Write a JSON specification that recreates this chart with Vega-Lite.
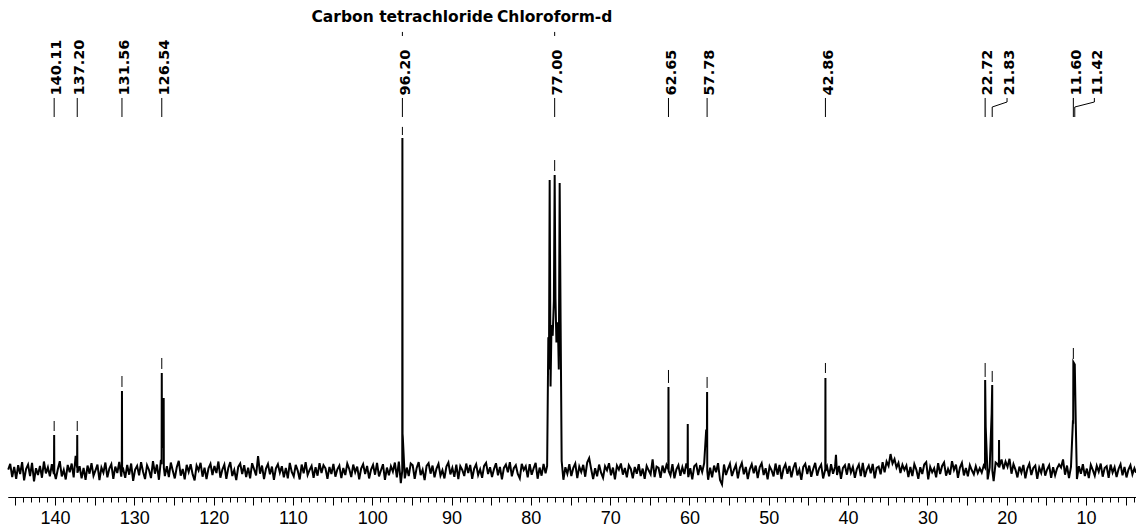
{
"$schema": "https://vega.github.io/schema/vega-lite/v6.json",
"width": 1128, "height": 497,
"padding": {"left": 8, "top": 0, "right": 0, "bottom": 30},
"autosize": {"type": "none"},
"background": "white",
"config": {"view": {"stroke": null}},
"resolve": {"axis": {"x": "independent"}},
"datasets": {
"labels": [
{"p":140.11,"lp":140.11,"t":"140.11"},{"p":137.2,"lp":137.2,"t":"137.20"},{"p":131.56,"lp":131.56,"t":"131.56"},{"p":126.54,"lp":126.54,"t":"126.54"},
{"p":96.2,"lp":96.2,"t":"96.20"},{"p":77.0,"lp":77.0,"t":"77.00"},{"p":62.65,"lp":62.65,"t":"62.65"},{"p":57.78,"lp":57.78,"t":"57.78"},
{"p":42.86,"lp":42.86,"t":"42.86"},{"p":22.72,"lp":22.72,"t":"22.72"},{"p":21.83,"lp":19.96,"t":"21.83"},{"p":11.6,"lp":11.6,"t":"11.60"},{"p":11.42,"lp":8.95,"t":"11.42"}
],
"markers": [
{"p":140.11,"lo":11.83,"hi":14.79},{"p":137.2,"lo":11.83,"hi":14.79},{"p":131.56,"lo":24.85,"hi":28.1},{"p":126.54,"lo":30.18,"hi":33.43},
{"p":96.2,"lo":99.4,"hi":101.8},{"p":77.0,"lo":88.76,"hi":92.0},{"p":62.65,"lo":26.04,"hi":29.88},{"p":57.78,"lo":24.56,"hi":27.81},
{"p":42.86,"lo":28.99,"hi":31.95},{"p":22.72,"lo":27.81,"hi":31.95},{"p":21.83,"lo":26.33,"hi":29.59},{"p":11.6,"lo":33.14,"hi":36.39}
],
"solvents": [{"p":96.2,"t":"Carbon tetrachloride"},{"p":77.0,"t":"Chloroform-d"}],
"spec": [
{"p":145.9,"v":0.4},{"p":145.65,"v":2.1},{"p":145.4,"v":-1.8},{"p":145.15,"v":1.2},
{"p":144.9,"v":-2.3},{"p":144.65,"v":1.7},{"p":144.4,"v":-0.9},{"p":144.15,"v":2.6},
{"p":143.9,"v":-2.8},{"p":143.65,"v":0.6},{"p":143.4,"v":1.9},{"p":143.15,"v":-1.5},
{"p":142.9,"v":2.4},{"p":142.65,"v":-3.1},{"p":142.4,"v":0.8},{"p":142.15,"v":-1.2},
{"p":141.9,"v":1.5},{"p":141.65,"v":-2.0},{"p":141.4,"v":2.8},{"p":141.15,"v":-0.7},
{"p":140.9,"v":1.1},{"p":140.65,"v":-1.6},{"p":140.4,"v":2.0},{"p":140.15,"v":-0.9},{"p":140.13,"v":0.3},{"p":140.11,"v":10.65},{"p":140.09,"v":-0.5},
{"p":139.9,"v":-2.4},{"p":139.65,"v":0.5},{"p":139.4,"v":2.9},{"p":139.15,"v":-1.6},
{"p":138.9,"v":0.3},{"p":138.65,"v":-2.5},{"p":138.4,"v":1.8},{"p":138.15,"v":-0.4},
{"p":137.9,"v":2.2},{"p":137.65,"v":-1.9},{"p":137.4,"v":4.5},{"p":137.22,"v":1.0},{"p":137.2,"v":10.65},{"p":137.18,"v":-0.5},
{"p":136.9,"v":1.4},{"p":136.65,"v":-2.2},{"p":136.4,"v":0.9},{"p":136.15,"v":-2.6},
{"p":135.9,"v":1.6},{"p":135.65,"v":-0.8},{"p":135.4,"v":2.3},{"p":135.15,"v":-1.4},
{"p":134.9,"v":0.2},{"p":134.65,"v":1.9},{"p":134.4,"v":-2.7},{"p":134.15,"v":1.0},
{"p":133.9,"v":-0.5},{"p":133.65,"v":2.5},{"p":133.4,"v":-1.9},{"p":133.15,"v":0.7},
{"p":132.9,"v":2.0},{"p":132.65,"v":-2.3},{"p":132.4,"v":1.3},{"p":132.15,"v":-0.6},
{"p":131.9,"v":2.7},{"p":131.65,"v":-1.7},{"p":131.58,"v":0.5},{"p":131.56,"v":23.67},{"p":131.54,"v":0.0},{"p":131.4,"v":0.5},{"p":131.15,"v":-2.0},
{"p":130.9,"v":1.8},{"p":130.65,"v":-1.1},{"p":130.4,"v":2.2},{"p":130.15,"v":-2.9},
{"p":129.9,"v":0.4},{"p":129.65,"v":1.5},{"p":129.4,"v":-1.3},{"p":129.15,"v":2.6},
{"p":128.9,"v":-0.2},{"p":128.65,"v":-2.4},{"p":128.4,"v":1.7},{"p":128.15,"v":0.3},
{"p":127.9,"v":-2.1},{"p":127.65,"v":2.9},{"p":127.4,"v":-0.8},{"p":127.15,"v":1.9},
{"p":126.9,"v":-2.6},{"p":126.65,"v":3.3},{"p":126.56,"v":2.0},{"p":126.54,"v":29.0},{"p":126.52,"v":8.0},{"p":126.4,"v":7.5},{"p":126.32,"v":8.0},{"p":126.3,"v":21.6},{"p":126.28,"v":1.0},{"p":126.15,"v":-1.5},
{"p":125.9,"v":1.4},{"p":125.65,"v":-1.8},{"p":125.4,"v":2.5},{"p":125.15,"v":0.1},
{"p":124.9,"v":-2.2},{"p":124.65,"v":1.1},{"p":124.4,"v":3.0},{"p":124.15,"v":-1.4},
{"p":123.9,"v":0.6},{"p":123.65,"v":-2.5},{"p":123.4,"v":1.8},{"p":123.15,"v":-0.3},
{"p":122.9,"v":2.0},{"p":122.65,"v":-1.0},{"p":122.4,"v":-2.8},{"p":122.15,"v":1.6},
{"p":121.9,"v":0.2},{"p":121.65,"v":2.4},{"p":121.4,"v":-1.7},{"p":121.15,"v":1.0},
{"p":120.9,"v":-2.4},{"p":120.65,"v":0.8},{"p":120.4,"v":2.1},{"p":120.15,"v":-1.2},
{"p":119.9,"v":1.5},{"p":119.65,"v":-0.6},{"p":119.4,"v":2.8},{"p":119.15,"v":-2.0},
{"p":118.9,"v":0.4},{"p":118.65,"v":1.9},{"p":118.4,"v":-2.3},{"p":118.15,"v":0.9},
{"p":117.9,"v":2.6},{"p":117.65,"v":-1.5},{"p":117.4,"v":0.3},{"p":117.15,"v":-2.7},
{"p":116.9,"v":1.2},{"p":116.65,"v":2.2},{"p":116.4,"v":-0.9},{"p":116.15,"v":1.7},
{"p":115.9,"v":-1.8},{"p":115.65,"v":1.0},{"p":115.4,"v":-2.2},{"p":115.15,"v":2.3},
{"p":114.9,"v":0.5},{"p":114.65,"v":-1.3},{"p":114.4,"v":4.4},{"p":114.15,"v":-0.8},
{"p":113.9,"v":1.6},{"p":113.65,"v":-2.4},{"p":113.4,"v":0.7},{"p":113.15,"v":2.1},
{"p":112.9,"v":-1.0},{"p":112.65,"v":1.3},{"p":112.4,"v":-2.6},{"p":112.15,"v":0.8},
{"p":111.9,"v":2.0},{"p":111.65,"v":-0.5},{"p":111.4,"v":1.4},{"p":111.15,"v":-1.9},
{"p":110.9,"v":0.9},{"p":110.65,"v":-2.2},{"p":110.4,"v":2.4},{"p":110.15,"v":-0.3},
{"p":109.9,"v":-1.6},{"p":109.65,"v":1.8},{"p":109.4,"v":0.1},{"p":109.15,"v":-2.5},
{"p":108.9,"v":1.9},{"p":108.65,"v":-0.7},{"p":108.4,"v":2.6},{"p":108.15,"v":-1.2},
{"p":107.9,"v":0.3},{"p":107.65,"v":1.5},{"p":107.4,"v":-2.0},{"p":107.15,"v":1.1},
{"p":106.9,"v":-1.4},{"p":106.65,"v":2.3},{"p":106.4,"v":-0.6},{"p":106.15,"v":1.7},
{"p":105.9,"v":0.8},{"p":105.65,"v":-2.3},{"p":105.4,"v":1.2},{"p":105.15,"v":-0.9},
{"p":104.9,"v":2.1},{"p":104.65,"v":-1.7},{"p":104.4,"v":0.5},{"p":104.15,"v":1.6},
{"p":103.9,"v":-2.1},{"p":103.65,"v":0.9},{"p":103.4,"v":-1.2},{"p":103.15,"v":2.2},
{"p":102.9,"v":0.6},{"p":102.65,"v":-1.8},{"p":102.4,"v":1.9},{"p":102.15,"v":-0.4},
{"p":101.9,"v":1.3},{"p":101.65,"v":-2.5},{"p":101.4,"v":0.7},{"p":101.15,"v":2.0},
{"p":100.9,"v":-0.9},{"p":100.65,"v":1.5},{"p":100.4,"v":-2.2},{"p":100.15,"v":0.4},
{"p":99.9,"v":1.8},{"p":99.65,"v":-1.1},{"p":99.4,"v":2.4},{"p":99.15,"v":-1.6},
{"p":98.9,"v":0.2},{"p":98.65,"v":2.0},{"p":98.4,"v":-2.6},{"p":98.15,"v":1.0},
{"p":97.9,"v":-1.3},{"p":97.65,"v":1.4},{"p":97.4,"v":-0.2},{"p":97.15,"v":2.5},
{"p":96.9,"v":-1.9},{"p":96.65,"v":2.8},{"p":96.4,"v":-3.6},{"p":96.22,"v":0.0},{"p":96.2,"v":98.5},{"p":96.18,"v":11.0},{"p":96.15,"v":10},
{"p":95.9,"v":-2.2},{"p":95.65,"v":1.0},{"p":95.4,"v":-1.5},{"p":95.15,"v":2.2},
{"p":94.9,"v":1.7},{"p":94.65,"v":-2.3},{"p":94.4,"v":0.9},{"p":94.15,"v":2.6},
{"p":93.9,"v":-1.2},{"p":93.65,"v":0.4},{"p":93.4,"v":-2.7},{"p":93.15,"v":1.5},
{"p":92.9,"v":2.3},{"p":92.65,"v":-0.8},{"p":92.4,"v":1.6},{"p":92.15,"v":-1.9},
{"p":91.9,"v":0.7},{"p":91.65,"v":2.1},{"p":91.4,"v":-1.4},{"p":91.15,"v":0.2},
{"p":90.9,"v":-2.2},{"p":90.65,"v":1.3},{"p":90.4,"v":2.5},{"p":90.15,"v":-1.0},
{"p":89.9,"v":0.9},{"p":89.65,"v":-1.7},{"p":89.4,"v":1.9},{"p":89.15,"v":-2.4},
{"p":88.9,"v":1.4},{"p":88.65,"v":0.3},{"p":88.4,"v":-1.5},{"p":88.15,"v":2.2},
{"p":87.9,"v":-0.6},{"p":87.65,"v":1.8},{"p":87.4,"v":-2.3},{"p":87.15,"v":0.7},
{"p":86.9,"v":2.0},{"p":86.65,"v":-1.2},{"p":86.4,"v":0.5},{"p":86.15,"v":-2.0},
{"p":85.9,"v":1.5},{"p":85.65,"v":2.4},{"p":85.4,"v":-0.9},{"p":85.15,"v":1.1},
{"p":84.9,"v":-1.8},{"p":84.65,"v":0.6},{"p":84.4,"v":2.3},{"p":84.15,"v":-1.3},
{"p":83.9,"v":1.2},{"p":83.65,"v":-2.5},{"p":83.4,"v":0.9},{"p":83.15,"v":1.9},
{"p":82.9,"v":-0.4},{"p":82.65,"v":2.6},{"p":82.4,"v":-1.6},{"p":82.15,"v":0.8},
{"p":81.9,"v":1.7},{"p":81.65,"v":-0.9},{"p":81.4,"v":-2.2},{"p":81.15,"v":2.1},
{"p":80.9,"v":0.3},{"p":80.65,"v":1.4},{"p":80.4,"v":-1.9},{"p":80.15,"v":2.0},
{"p":79.9,"v":-1.1},{"p":79.65,"v":0.8},{"p":79.4,"v":2.4},{"p":79.15,"v":-2.3},
{"p":78.9,"v":1.0},{"p":78.65,"v":-1.4},{"p":78.4,"v":2.1},{"p":78.15,"v":-0.7},
{"p":77.95,"v":1.5},{"p":77.8,"v":39.6},{"p":77.72,"v":30},{"p":77.63,"v":86.1},{"p":77.52,"v":25},{"p":77.4,"v":43.2},{"p":77.25,"v":40},{"p":77.1,"v":50.3},
{"p":77.0,"v":87.57},{"p":76.9,"v":51},{"p":76.78,"v":38},{"p":76.6,"v":44},{"p":76.48,"v":30},{"p":76.37,"v":85.2},{"p":76.25,"v":44},{"p":76.12,"v":3},
{"p":75.9,"v":-2.6},{"p":75.65,"v":1.1},{"p":75.4,"v":-0.8},{"p":75.15,"v":2.0},
{"p":74.9,"v":-1.5},{"p":74.65,"v":0.9},{"p":74.4,"v":2.2},{"p":74.15,"v":-2.1},
{"p":73.9,"v":1.3},{"p":73.65,"v":-0.3},{"p":73.4,"v":1.8},{"p":73.15,"v":-1.7},
{"p":72.9,"v":2.5},{"p":72.65,"v":3.8},{"p":72.4,"v":0.6},{"p":72.15,"v":-2.4},
{"p":71.9,"v":0.8},{"p":71.65,"v":-1.6},{"p":71.4,"v":1.9},{"p":71.15,"v":-0.5},
{"p":70.9,"v":-2.0},{"p":70.65,"v":1.4},{"p":70.4,"v":0.2},{"p":70.15,"v":2.3},
{"p":69.9,"v":-1.3},{"p":69.65,"v":1.0},{"p":69.4,"v":-2.5},{"p":69.15,"v":1.6},
{"p":68.9,"v":0.4},{"p":68.65,"v":2.2},{"p":68.4,"v":-1.1},{"p":68.15,"v":0.9},
{"p":67.9,"v":-1.9},{"p":67.65,"v":1.7},{"p":67.4,"v":0.6},{"p":67.15,"v":-2.2},
{"p":66.9,"v":1.2},{"p":66.65,"v":-0.8},{"p":66.4,"v":2.0},{"p":66.15,"v":-1.5},
{"p":65.9,"v":0.7},{"p":65.65,"v":-2.3},{"p":65.4,"v":1.5},{"p":65.15,"v":0.2},
{"p":64.9,"v":-1.0},{"p":64.65,"v":3.4},{"p":64.4,"v":-1.8},{"p":64.15,"v":1.3},
{"p":63.9,"v":0.9},{"p":63.65,"v":-2.0},{"p":63.4,"v":1.6},{"p":63.15,"v":-0.6},
{"p":62.9,"v":1.8},{"p":62.67,"v":0.5},{"p":62.65,"v":24.85},{"p":62.63,"v":0.0},{"p":62.4,"v":-1.3},{"p":62.15,"v":2.0},
{"p":61.9,"v":-2.2},{"p":61.65,"v":0.5},{"p":61.4,"v":1.7},{"p":61.15,"v":-1.4},
{"p":60.9,"v":1.1},{"p":60.65,"v":-0.9},{"p":60.4,"v":2.2},{"p":60.24,"v":0.8},{"p":60.22,"v":13.9},{"p":60.2,"v":-0.3},{"p":60.15,"v":-1.8},
{"p":59.9,"v":0.8},{"p":59.65,"v":-2.5},{"p":59.4,"v":1.4},{"p":59.15,"v":2.0},
{"p":58.9,"v":-1.2},{"p":58.65,"v":1.7},{"p":58.4,"v":-0.3},{"p":58.15,"v":2.3},
{"p":57.9,"v":12},{"p":57.8,"v":12},{"p":57.78,"v":23.37},{"p":57.76,"v":0.0},{"p":57.65,"v":-2.6},{"p":57.4,"v":1.0},{"p":57.15,"v":-1.9},
{"p":56.9,"v":1.6},{"p":56.65,"v":-0.4},{"p":56.4,"v":2.3},{"p":56.15,"v":-2.7},
{"p":55.9,"v":-4.0},{"p":55.65,"v":1.9},{"p":55.4,"v":-1.2},{"p":55.15,"v":0.6},
{"p":54.9,"v":2.1},{"p":54.65,"v":-1.5},{"p":54.4,"v":0.3},{"p":54.15,"v":1.8},
{"p":53.9,"v":-2.2},{"p":53.65,"v":0.9},{"p":53.4,"v":2.4},{"p":53.15,"v":-1.0},
{"p":52.9,"v":1.2},{"p":52.65,"v":-2.4},{"p":52.4,"v":0.5},{"p":52.15,"v":2.0},
{"p":51.9,"v":-0.7},{"p":51.65,"v":1.6},{"p":51.4,"v":-2.1},{"p":51.15,"v":1.1},
{"p":50.9,"v":2.3},{"p":50.65,"v":-1.2},{"p":50.4,"v":0.8},{"p":50.15,"v":-2.5},
{"p":49.9,"v":1.4},{"p":49.65,"v":0.2},{"p":49.4,"v":-1.6},{"p":49.15,"v":2.2},
{"p":48.9,"v":-1.1},{"p":48.65,"v":1.8},{"p":48.4,"v":-2.4},{"p":48.15,"v":0.7},
{"p":47.9,"v":2.0},{"p":47.65,"v":-0.8},{"p":47.4,"v":1.5},{"p":47.15,"v":-1.9},
{"p":46.9,"v":0.9},{"p":46.65,"v":2.5},{"p":46.4,"v":-1.3},{"p":46.15,"v":0.4},
{"p":45.9,"v":-2.6},{"p":45.65,"v":1.2},{"p":45.4,"v":2.1},{"p":45.15,"v":-0.9},
{"p":44.9,"v":1.6},{"p":44.65,"v":-1.7},{"p":44.4,"v":0.6},{"p":44.15,"v":2.4},
{"p":43.9,"v":-1.4},{"p":43.65,"v":0.8},{"p":43.4,"v":1.9},{"p":43.15,"v":-2.2},{"p":42.88,"v":0.5},{"p":42.86,"v":27.51},{"p":42.84,"v":0.0},
{"p":42.65,"v":1.3},{"p":42.4,"v":-1.6},{"p":42.15,"v":2.0},
{"p":41.9,"v":-0.8},{"p":41.65,"v":1.2},{"p":41.53,"v":4.8},{"p":41.4,"v":-1.2},{"p":41.15,"v":1.5},
{"p":40.9,"v":-2.3},{"p":40.65,"v":0.9},{"p":40.4,"v":1.7},{"p":40.15,"v":-1.1},
{"p":39.9,"v":2.2},{"p":39.65,"v":-0.5},{"p":39.4,"v":1.2},{"p":39.15,"v":-2.0},
{"p":38.9,"v":0.6},{"p":38.65,"v":1.9},{"p":38.4,"v":-1.5},{"p":38.15,"v":2.4},
{"p":37.9,"v":-1.8},{"p":37.65,"v":0.4},{"p":37.4,"v":1.6},{"p":37.15,"v":-0.7},
{"p":36.9,"v":2.1},{"p":36.65,"v":-2.2},{"p":36.4,"v":0.9},{"p":36.15,"v":1.3},
{"p":35.9,"v":-1.0},{"p":35.65,"v":2.6},{"p":35.4,"v":-0.4},{"p":35.15,"v":2.8},
{"p":34.9,"v":1.5},{"p":34.65,"v":5.0},{"p":34.4,"v":2.2},{"p":34.15,"v":3.5},
{"p":33.9,"v":1.0},{"p":33.65,"v":2.4},{"p":33.4,"v":-0.6},{"p":33.15,"v":1.8},
{"p":32.9,"v":0.3},{"p":32.65,"v":1.6},{"p":32.4,"v":-1.8},{"p":32.15,"v":1.2},
{"p":31.9,"v":-1.5},{"p":31.65,"v":2.0},{"p":31.4,"v":0.4},{"p":31.15,"v":-2.3},
{"p":30.9,"v":1.1},{"p":30.65,"v":-0.9},{"p":30.4,"v":1.9},{"p":30.15,"v":2.6},
{"p":29.9,"v":-2.5},{"p":29.65,"v":1.2},{"p":29.4,"v":-0.4},{"p":29.15,"v":0.8},
{"p":28.9,"v":-1.9},{"p":28.65,"v":2.3},{"p":28.4,"v":-0.9},{"p":28.15,"v":1.5},
{"p":27.9,"v":2.5},{"p":27.65,"v":-1.4},{"p":27.4,"v":0.6},{"p":27.15,"v":-1.1},
{"p":26.9,"v":2.9},{"p":26.65,"v":0.3},{"p":26.4,"v":1.9},{"p":26.15,"v":-2.0},
{"p":25.9,"v":1.0},{"p":25.65,"v":2.4},{"p":25.4,"v":-1.3},{"p":25.15,"v":0.9},
{"p":24.9,"v":-1.6},{"p":24.65,"v":1.7},{"p":24.4,"v":0.2},{"p":24.15,"v":-1.0},
{"p":23.9,"v":1.4},{"p":23.65,"v":-0.6},{"p":23.4,"v":0.8},{"p":23.15,"v":-0.5},
{"p":22.9,"v":1.6},{"p":22.74,"v":1.0},{"p":22.72,"v":26.92},{"p":22.65,"v":13},{"p":22.4,"v":-2.5},{"p":22.15,"v":1.0},
{"p":21.9,"v":17},{"p":21.83,"v":25.44},{"p":21.81,"v":0.0},{"p":21.65,"v":-3.0},{"p":21.4,"v":2.5},{"p":21.15,"v":2.0},{"p":20.99,"v":1.2},{"p":20.97,"v":9.2},{"p":20.95,"v":1.0},
{"p":20.9,"v":1.5},{"p":20.65,"v":3.4},{"p":20.4,"v":0.5},{"p":20.15,"v":2.8},
{"p":19.9,"v":1.2},{"p":19.65,"v":3.6},{"p":19.4,"v":-0.8},{"p":19.15,"v":2.0},
{"p":18.9,"v":0.4},{"p":18.65,"v":-1.9},{"p":18.4,"v":1.3},{"p":18.15,"v":-0.5},
{"p":17.9,"v":1.8},{"p":17.65,"v":-2.2},{"p":17.4,"v":0.7},{"p":17.15,"v":2.1},
{"p":16.9,"v":-1.2},{"p":16.65,"v":0.9},{"p":16.4,"v":1.6},{"p":16.15,"v":-2.3},
{"p":15.9,"v":1.0},{"p":15.65,"v":-0.6},{"p":15.4,"v":2.2},{"p":15.15,"v":-1.4},
{"p":14.9,"v":0.5},{"p":14.65,"v":1.7},{"p":14.4,"v":-2.0},{"p":14.15,"v":1.1},
{"p":13.9,"v":-1.3},{"p":13.65,"v":0.8},{"p":13.4,"v":1.9},{"p":13.15,"v":1.0},
{"p":12.9,"v":3.4},{"p":12.65,"v":-1.1},{"p":12.4,"v":1.6},{"p":12.15,"v":-2.1},
{"p":11.9,"v":1.2},{"p":11.65,"v":15},{"p":11.62,"v":14},{"p":11.6,"v":32.25},{"p":11.42,"v":31.5},{"p":11.3,"v":15},{"p":11.15,"v":-2.4},
{"p":10.9,"v":1.4},{"p":10.65,"v":-0.8},{"p":10.4,"v":2.0},{"p":10.15,"v":-1.5},
{"p":9.9,"v":0.7},{"p":9.65,"v":-2.1},{"p":9.4,"v":1.8},{"p":9.15,"v":0.3},
{"p":8.9,"v":-1.4},{"p":8.65,"v":1.5},{"p":8.4,"v":-0.2},{"p":8.15,"v":2.2},
{"p":7.9,"v":-1.7},{"p":7.65,"v":0.9},{"p":7.4,"v":1.4},{"p":7.15,"v":-2.0},
{"p":6.9,"v":1.9},{"p":6.65,"v":-0.5},{"p":6.4,"v":1.1},{"p":6.15,"v":-1.8},
{"p":5.9,"v":0.6},{"p":5.65,"v":2.0},{"p":5.4,"v":-1.3},{"p":5.15,"v":1.2},
{"p":4.9,"v":-1.9},{"p":4.65,"v":0.4},{"p":4.4,"v":1.7},{"p":4.15,"v":-1.0},
{"p":3.9,"v":0.8},{"p":3.7,"v":-0.5}
]
},
"layer": [
{
"data": {"name": "spec"},
"mark": {"type": "line", "color": "#000", "strokeWidth": 2},
"encoding": {
"x": {"field": "p", "type": "quantitative",
"scale": {"domain": [3.7, 145.93], "reverse": true, "nice": false, "zero": false},
"axis": {"title": null, "grid": false, "orient": "bottom",
"values": [5,10,15,20,25,30,35,40,45,50,55,60,65,70,75,80,85,90,95,100,105,110,115,120,125,130,135,140,145],
"domainColor": "#000", "domainWidth": 1, "tickColor": "#000", "tickWidth": 1, "tickSize": 8,
"labelExpr": "datum.value % 10 === 0 ? format(datum.value, 'd') : ''",
"labelFont": "Liberation Sans", "labelFontSize": 18, "labelColor": "#000", "labelPadding": 4,
"labelOverlap": false, "labelFlush": false, "labelBound": false}},
"y": {"field": "v", "type": "quantitative", "scale": {"domain": [-7.7, 139.35], "nice": false, "zero": false}, "axis": null}
}
},
{
"data": {"name": "markers"},
"mark": {"type": "rule", "color": "#000", "strokeWidth": 1},
"encoding": {
"x": {"field": "p", "type": "quantitative", "scale": {"domain": [3.7, 145.93], "reverse": true, "nice": false, "zero": false},
"axis": {"title": null, "grid": false, "orient": "bottom", "labels": false,
"values": [4,5,6,7,8,9,10,11,12,13,14,15,16,17,18,19,20,21,22,23,24,25,26,27,28,29,30,31,32,33,34,35,36,37,38,39,40,41,42,43,44,45,46,47,48,49,50,51,52,53,54,55,56,57,58,59,60,61,62,63,64,65,66,67,68,69,70,71,72,73,74,75,76,77,78,79,80,81,82,83,84,85,86,87,88,89,90,91,92,93,94,95,96,97,98,99,100,101,102,103,104,105,106,107,108,109,110,111,112,113,114,115,116,117,118,119,120,121,122,123,124,125,126,127,128,129,130,131,132,133,134,135,136,137,138,139,140,141,142,143,144,145],
"domainColor": "#000", "domainWidth": 1, "tickColor": "#000", "tickWidth": 1, "tickSize": 5}},
"y": {"field": "lo", "type": "quantitative", "scale": {"domain": [-7.7, 139.35], "nice": false, "zero": false}, "axis": null},
"y2": {"field": "hi"}
}
},
{
"data": {"name": "labels"},
"mark": {"type": "rule", "color": "#000", "strokeWidth": 1},
"encoding": {
"x": {"field": "lp", "type": "quantitative", "scale": {"domain": [3.7, 145.93], "reverse": true, "nice": false, "zero": false}, "axis": null},
"y": {"datum": 110.36, "type": "quantitative", "scale": {"domain": [-7.7, 139.35], "nice": false, "zero": false}, "axis": null},
"y2": {"datum": 109.17}
}
},
{
"data": {"name": "labels"},
"mark": {"type": "rule", "color": "#000", "strokeWidth": 1},
"encoding": {
"x": {"field": "lp", "type": "quantitative", "scale": {"domain": [3.7, 145.93], "reverse": true, "nice": false, "zero": false}, "axis": null},
"x2": {"field": "p"},
"y": {"datum": 109.17, "type": "quantitative", "scale": {"domain": [-7.7, 139.35], "nice": false, "zero": false}, "axis": null},
"y2": {"datum": 107.69}
}
},
{
"data": {"name": "labels"},
"mark": {"type": "rule", "color": "#000", "strokeWidth": 1},
"encoding": {
"x": {"field": "p", "type": "quantitative", "scale": {"domain": [3.7, 145.93], "reverse": true, "nice": false, "zero": false}, "axis": null},
"y": {"datum": 107.69, "type": "quantitative", "scale": {"domain": [-7.7, 139.35], "nice": false, "zero": false}, "axis": null},
"y2": {"datum": 104.73}
}
},
{
"data": {"name": "labels"},
"mark": {"type": "text", "angle": 270, "align": "left", "baseline": "middle", "dy": 3.2, "font": "DejaVu Sans", "fontWeight": "bold", "fontSize": 14.5, "color": "#000"},
"encoding": {
"x": {"field": "lp", "type": "quantitative", "scale": {"domain": [3.7, 145.93], "reverse": true, "nice": false, "zero": false}, "axis": null},
"y": {"datum": 111.09, "type": "quantitative", "scale": {"domain": [-7.7, 139.35], "nice": false, "zero": false}, "axis": null},
"text": {"field": "t", "type": "nominal"}
}
},
{
"data": {"name": "solvents"},
"mark": {"type": "text", "align": "center", "baseline": "alphabetic", "font": "DejaVu Sans", "fontWeight": "bold", "fontSize": 15.5, "color": "#000"},
"encoding": {
"x": {"field": "p", "type": "quantitative", "scale": {"domain": [3.7, 145.93], "reverse": true, "nice": false, "zero": false}, "axis": null},
"y": {"datum": 132.7, "type": "quantitative", "scale": {"domain": [-7.7, 139.35], "nice": false, "zero": false}, "axis": null},
"text": {"field": "t", "type": "nominal"}
}
},
{
"data": {"name": "solvents"},
"mark": {"type": "rule", "color": "#000", "strokeWidth": 1},
"encoding": {
"x": {"field": "p", "type": "quantitative", "scale": {"domain": [3.7, 145.93], "reverse": true, "nice": false, "zero": false}, "axis": null},
"y": {"datum": 128.7, "type": "quantitative", "scale": {"domain": [-7.7, 139.35], "nice": false, "zero": false}, "axis": null},
"y2": {"datum": 129.9}
}
}
]
}
